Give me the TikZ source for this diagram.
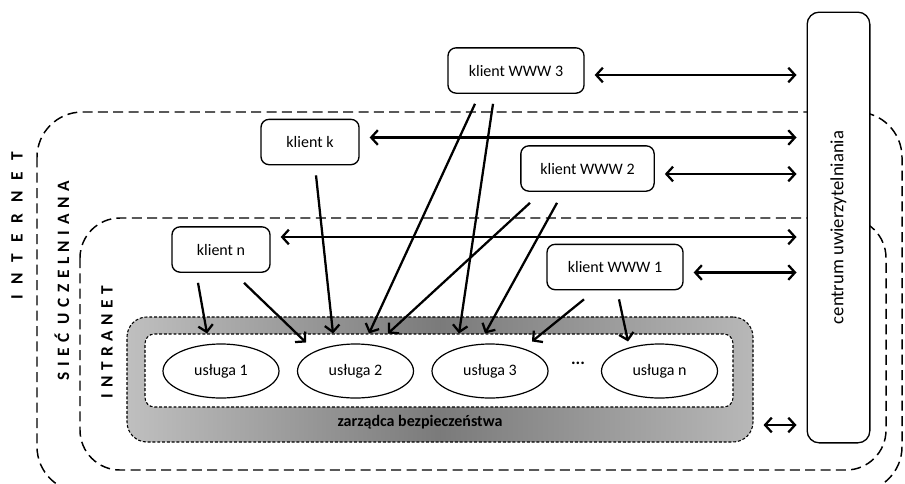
\documentclass[tikz,border=0pt]{standalone}
\usepackage{fontspec}
\setmainfont{Carlito}
\newfontfamily\szeroko[LetterSpace=63]{Carlito}
\newfontfamily\wasko[LetterSpace=32]{Carlito}
\usetikzlibrary{shapes.geometric,calc,arrows.meta}

\newcommand{\dwanascie}{\fontsize{12}{14}\selectfont}
\newcommand{\trzynascie}{\fontsize{13}{15}\selectfont}

\tikzstyle{klient}=[draw,line width=1pt,rounded corners=6pt,minimum height=34pt,font=\dwanascie]
\tikzstyle{usluga}=[draw,ellipse,line width=0.9pt,minimum width=87pt,minimum height=40.5pt,font=\dwanascie]
\tikzstyle{strefa}=[draw,line width=1.1pt,dash pattern=on 7.5pt off 4pt]
\tikzstyle{ramka}=[draw,line width=0.8pt,dash pattern=on 2.2pt off 1.4pt]
\tikzstyle{napis}=[rotate=90]
\tikzstyle{dwukierunkowa}=[draw,line width=1.7pt,<->]
\tikzstyle{zadanie}=[draw,line width=1.7pt,->]

\begin{document}
\begin{tikzpicture}[x=0.75pt,y=-0.75pt,>={Straight Barb[length=5pt,width=11pt]}]
	\useasboundingbox (0,0) rectangle (905,483);
	% strefy sieci
	\draw[strefa,rounded corners=34pt] (37,112) rectangle (902,492);
	\draw[strefa,rounded corners=30pt] (80,218) rectangle (886,470);
	\node[napis,font=\szeroko\trzynascie\bfseries] (internet) at (17,226) {INTERNET};
	\node[napis,font=\wasko\trzynascie\bfseries] (siec) at (62,281) {SIEĆ UCZELNIANA};
	\node[napis,font=\wasko\trzynascie\bfseries] (intranet) at (107,342) {INTRANET};

	% zarzadca i uslugi
	\node[ramka,rounded corners=15pt,minimum width=469.5pt,minimum height=93.75pt,
		left color=black!25,right color=black!28,middle color=black!52] (zarzadca) at (440,379.5) {};
	\node[font=\dwanascie\bfseries] (zarzadca opis) at (420,422) {zarządca bezpieczeństwa};
	\node[ramka,fill=white,rounded corners=7pt,minimum width=441pt,minimum height=54.75pt] (uslugi) at (439,370.5) {};
	\node[usluga] (u1) at (221,371) {usługa 1};
	\node[usluga] (u2) at (355.5,371) {usługa 2};
	\node[usluga] (u3) at (490,371) {usługa 3};
	\node[font=\trzynascie\bfseries] (kropki) at (578,363) {...};
	\node[usluga] (un) at (659.5,371) {usługa n};

	% klienci
	\node[klient,minimum width=102pt] (www3) at (516,70.5) {klient WWW 3};
	\node[klient,minimum width=73.5pt] (kk) at (310,142) {klient k};
	\node[klient,minimum width=100pt] (www2) at (587.5,168.5) {klient WWW 2};
	\node[klient,minimum width=73.5pt] (kn) at (221,249.5) {klient n};
	\node[klient,minimum width=102pt] (www1) at (615,267) {klient WWW 1};

	\node[draw,fill=white,line width=1pt,rounded corners=9pt,minimum width=47pt,minimum height=323pt,
		font=\fontsize{14}{16}\selectfont] (centrum) at (838.5,227.5) {\rotatebox{90}{centrum uwierzytelniania}};

	% polaczenia z centrum uwierzytelniania
	\foreach \source/\dy in {www3/4.5, kk/-4.5, www2/5.5, kn/-12.5, www1/5.5}
		\path[dwukierunkowa] ($(\source.east)+(10,\dy)$) to ($(\source.east -| centrum.west)+(-10,\dy)$);
	\path[dwukierunkowa] ($(zarzadca.east)+(10,45.5)$) to ($(zarzadca.east -| centrum.west)+(-10,45.5)$);

	% zadania do uslug
	\foreach \source/\sx/\sy/\ex/\ey in {kn/-23/10/-232/0, kn/23/10/-133/9, kk/6/10/-106/0,
		www3/-41/10/-70/0, www3/-23/10/20/0, www2/-57.5/11/-51/0, www2/-30.5/11/46/0,
		www1/-31/9/93/8, www1/4/9/189/8}
		\path[zadanie] ($(\source.south)+(\sx,\sy)$) to ($(uslugi.north)+(\ex,\ey)$);
\end{tikzpicture}
\end{document}
